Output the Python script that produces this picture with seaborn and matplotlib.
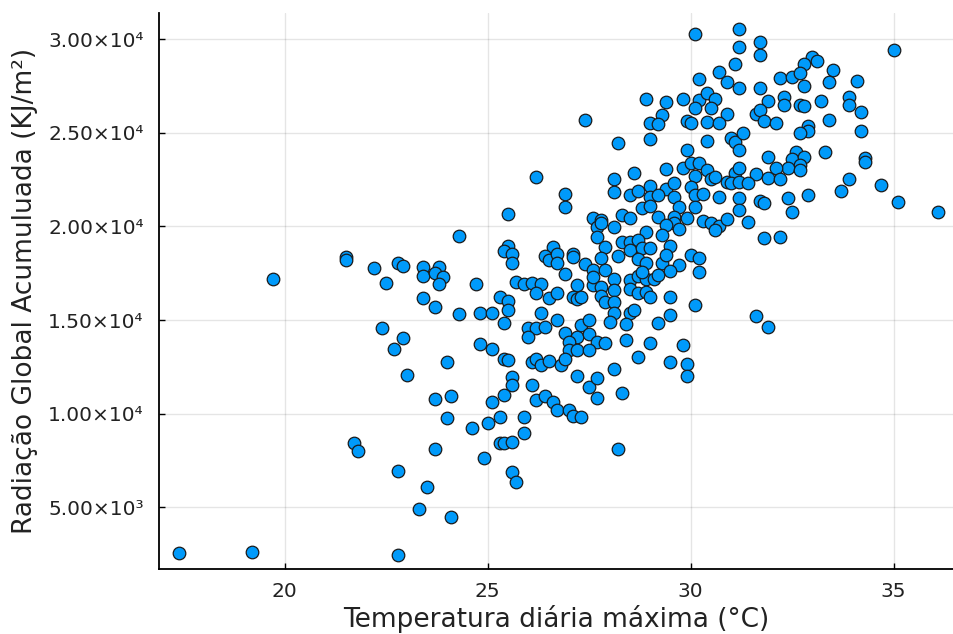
import matplotlib
matplotlib.use("Agg")
import matplotlib.pyplot as plt
import pandas as pd
import seaborn as sns

# ==================================================
# DATA
# ==================================================

temp_max = [
    17.4, 19.2, 22.8, 19.7, 21.5, 21.5, 22.2, 22.8, 22.9, 22.5,
    23.4, 23.8, 23.4, 23.7, 23.9, 23.8, 23.4, 23.7, 24.3, 24.3,
    22.4, 22.9, 22.7, 24.0, 23.0, 23.7, 24.1, 24.0, 21.7, 21.8,
    23.7, 22.8, 23.5, 23.3, 24.1, 27.4, 26.2, 26.9, 26.9, 25.5,
    25.5, 25.4, 25.6, 25.6, 26.6, 26.4, 26.5, 26.7, 26.7, 27.1,
    27.1, 26.9, 27.4, 27.6, 27.6, 27.7, 27.7, 24.7, 25.7, 25.9,
    26.1, 26.3, 26.2, 25.3, 25.5, 25.5, 26.5, 26.7, 27.2, 27.1,
    27.2, 27.3, 27.6, 27.6, 24.8, 25.1, 25.4, 26.3, 26.7, 26.0,
    26.2, 26.4, 26.0, 26.9, 27.2, 27.3, 27.5, 27.5, 27.7, 27.0,
    27.0, 27.2, 27.5, 24.8, 25.1, 25.4, 25.5, 26.1, 26.2, 26.3,
    26.5, 26.8, 26.9, 27.2, 25.6, 25.6, 26.1, 27.5, 27.7, 27.7,
    25.4, 25.1, 26.2, 26.4, 26.6, 26.7, 27.0, 27.1, 27.3, 25.3,
    25.0, 24.6, 25.9, 25.9, 25.3, 25.4, 25.6, 24.9, 25.6, 25.7,
    28.2, 30.1, 31.2, 31.2, 31.1, 30.7, 30.9, 31.2, 30.2, 28.9,
    29.4, 29.8, 30.2, 30.4, 30.6, 30.1, 30.5, 30.9, 29.3, 29.0,
    29.2, 29.9, 30.0, 30.4, 30.7, 28.2, 29.0, 30.4, 31.0, 31.1,
    31.2, 31.3, 29.9, 29.4, 28.6, 28.1, 28.1, 29.8, 30.0, 30.2,
    30.4, 30.1, 30.5, 30.6, 30.9, 31.1, 31.2, 28.5, 28.7, 29.0,
    29.0, 29.4, 29.6, 29.6, 30.0, 30.1, 30.3, 30.7, 31.2, 31.0,
    31.2, 29.2, 28.8, 29.0, 29.7, 30.1, 31.2, 28.3, 28.5, 29.2,
    29.6, 29.9, 29.6, 29.4, 29.7, 27.8, 27.8, 28.1, 30.3, 30.5,
    30.7, 30.9, 30.6, 28.9, 29.3, 28.3, 28.5, 28.7, 28.5, 28.8,
    29.0, 29.5, 27.9, 27.8, 28.2, 28.7, 28.9, 29.3, 29.4, 29.7,
    30.0, 30.2, 30.2, 29.5, 27.9, 28.1, 28.5, 28.7, 28.9, 29.1,
    29.2, 28.8, 27.8, 28.1, 28.5, 28.7, 28.9, 29.0, 29.5, 27.8,
    27.9, 28.1, 30.1, 28.5, 28.6, 28.1, 29.5, 28.0, 28.4, 29.2,
    27.9, 28.4, 29.0, 29.8, 28.7, 29.5, 29.9, 28.1, 29.9, 28.3,
    31.7, 31.7, 33.0, 33.1, 32.8, 35.0, 33.5, 32.2, 32.5, 32.7,
    32.8, 33.4, 34.1, 31.7, 31.9, 32.3, 32.3, 32.7, 32.8, 33.2,
    33.9, 33.9, 34.2, 31.6, 31.7, 31.8, 32.1, 33.4, 32.9, 32.9,
    32.7, 34.2, 31.9, 32.6, 32.5, 32.8, 32.7, 32.4, 32.1, 32.7,
    33.3, 34.3, 34.3, 31.6, 31.9, 32.2, 33.9, 34.7, 31.4, 31.4,
    31.7, 31.8, 32.4, 32.5, 32.9, 33.7, 35.1, 36.1, 31.8, 32.2,
    31.6, 31.9,
]

rad_global = [
    2550, 2630, 2460, 17170, 18350, 18200, 17780, 18060, 17900, 16960,
    17810, 17810, 17350, 17490, 17310, 16910, 16160, 15710, 19500, 15300,
    14560, 14020, 13450, 12770, 12060, 10780, 10940, 9790, 8450, 8020,
    8110, 6960, 6100, 4900, 4470, 25680, 22620, 21710, 21050, 20660,
    18950, 18700, 18520, 18060, 18910, 18420, 18200, 18520, 18030, 18520,
    18380, 17460, 17990, 17670, 20430, 19980, 19450, 16920, 17050, 16920,
    16960, 16920, 16430, 16210, 16030, 15530, 16160, 16430, 16870, 16240,
    16110, 16240, 16870, 17310, 15360, 15360, 14820, 15390, 15000, 14560,
    14560, 14610, 14110, 14320, 14110, 14730, 15000, 14250, 13840, 13840,
    13400, 13400, 13400, 13720, 13440, 12900, 12870, 12770, 12900, 12600,
    12830, 12600, 12900, 12010, 11970, 11530, 11530, 11410, 11890, 10820,
    11000, 10640, 10730, 10940, 10640, 10200, 10200, 9880, 9840, 9840,
    9490, 9220, 9840, 8950, 8420, 8450, 8500, 7620, 6890, 6370,
    8100, 30300, 30530, 29560, 28700, 28250, 27720, 27370, 27900, 26800,
    26620, 26830, 26740, 27100, 26830, 26330, 26300, 26010, 25940, 25500,
    25460, 25620, 25500, 25590, 25550, 24430, 24660, 24560, 24700, 24520,
    24080, 24970, 24080, 23060, 22830, 22560, 21820, 23130, 23370, 23370,
    23010, 22700, 22560, 22650, 22380, 22830, 23100, 21670, 21890, 22170,
    21580, 21990, 22300, 21580, 22120, 21670, 21760, 21580, 21500, 22300,
    22380, 21670, 20960, 21090, 21050, 21050, 20870, 20600, 20430, 20480,
    20510, 20430, 20190, 20070, 19840, 20340, 20160, 19980, 20300, 20160,
    20020, 20380, 19800, 19710, 19540, 19180, 19180, 19270, 18770, 18830,
    18830, 18950, 18910, 18290, 18420, 18240, 18030, 18060, 18470, 17940,
    18470, 18290, 17580, 17630, 17670, 17170, 17140, 17350, 17170, 17170,
    17400, 17580, 16780, 16600, 16640, 16430, 16510, 16240, 16240, 16280,
    15980, 15980, 15800, 15360, 15530, 15390, 15270, 14910, 14790, 14860,
    13790, 13930, 13760, 13670, 13040, 12770, 12650, 12370, 12010, 11090,
    29860, 29180, 29060, 28830, 28700, 29410, 28350, 27930, 27990, 28170,
    27510, 27690, 27760, 27400, 26690, 26920, 26480, 26510, 26440, 26690,
    26920, 26510, 26120, 26030, 26210, 25620, 25550, 25680, 25370, 25090,
    24970, 25090, 23720, 23980, 23590, 23720, 23270, 23130, 23130, 23010,
    23980, 23630, 23450, 22780, 22600, 22530, 22530, 22210, 22300, 20250,
    21350, 21230, 21530, 20780, 21670, 21890, 21320, 20750, 19390, 19450,
    15230, 14610,
]

x_ticks = [20, 25, 30, 35]
y_ticks = [5000, 10000, 15000, 20000, 25000, 30000]
y_tick_labels = [
    "5.00×10³",
    "1.00×10⁴",
    "1.50×10⁴",
    "2.00×10⁴",
    "2.50×10⁴",
    "3.00×10⁴",
]

x_label = "Temperatura diária máxima (°C)"
y_label = "Radiação Global Acumuluada (KJ/m²)"

# ==================================================
# STYLING
# ==================================================

sns.set_theme(style="white")
plt.rcParams["font.family"] = ["DejaVu Sans"]

df = pd.DataFrame({"temp": temp_max, "rad": rad_global})

# ==================================================
# PLOT
# ==================================================

fig = plt.figure(figsize=(9.54, 6.34), dpi=100)
ax = fig.add_axes([0.1667, 0.102, 0.833, 0.878])

sns.scatterplot(
    data=df,
    x="temp",
    y="rad",
    ax=ax,
    color="#009AFA",
    edgecolor="#1a1a1a",
    linewidth=0.9,
    s=82,
    legend=False,
    zorder=3
)

ax.set_xlim(16.9, 36.48)
ax.set_ylim(1693, 31415)
ax.set_xticks(x_ticks)
ax.set_xticklabels([str(t) for t in x_ticks])
ax.set_yticks(y_ticks)
ax.set_yticklabels(y_tick_labels)

ax.grid(True, color="black", alpha=0.1, linewidth=1.0)
ax.set_axisbelow(True)

for side in ["top", "right"]:
    ax.spines[side].set_visible(False)
for side in ["left", "bottom"]:
    ax.spines[side].set_color("black")
    ax.spines[side].set_linewidth(1.3)

ax.tick_params(axis="both", direction="in", length=4, width=1.0,
               color="black", labelsize=14.5, labelcolor="#222222")
ax.tick_params(axis="x", pad=9)
ax.tick_params(axis="y", pad=11)
ax.tick_params(left=True, bottom=True)

ax.set_xlabel(x_label, fontsize=19, color="#222222", labelpad=3)
ax.set_ylabel(y_label, fontsize=19, color="#222222")
ax.yaxis.set_label_coords(-0.152, 0.5)

fig.savefig("out.png", dpi=100)
